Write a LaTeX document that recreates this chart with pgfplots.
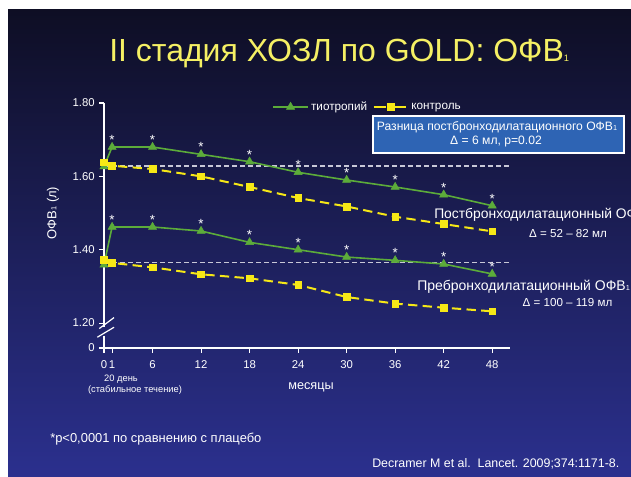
\documentclass[border=0pt]{standalone}
\usepackage{fontspec}
\setmainfont{Liberation Sans}
\usepackage{pgfplots}
\pgfplotsset{compat=1.18}
\definecolor{bgtop}{RGB}{14,14,36}
\definecolor{bgmid}{RGB}{34,38,118}
\definecolor{bgbot}{RGB}{43,48,142}
\definecolor{ttl}{RGB}{245,240,100}
\definecolor{tgreen}{RGB}{92,172,58}
\definecolor{cyellow}{RGB}{246,232,22}
\definecolor{boxblue}{RGB}{46,100,180}
\definecolor{refgrey}{RGB}{200,200,215}
\newcommand{\sub}[1]{{\fontsize{5.5}{6}\selectfont #1}}
\begin{document}
\begin{tikzpicture}[x=0.75pt,y=-0.75pt]
\useasboundingbox (0,0) rectangle (631,476);
\clip (0,0) rectangle (631,476);
\fill[white] (0,0) rectangle (631,476);
\shade[top color=bgtop, middle color=bgmid, bottom color=bgbot] (8,9) rectangle (631,476);
\coordinate (AO) at (104,348);

\begin{axis}[
  at={(AO)}, anchor=south west, scale only axis,
  width=304.5pt, height=183.75pt,
  xmin=0, xmax=50.2, ymin=1.132, ymax=1.80,
  clip=false,
  axis x line=bottom, axis y line=left,
  axis line style={-, white, line width=1pt},
  y axis line style={draw=none},
  xtick={0,1,6,12,18,24,30,36,42,48},
  xticklabels={0,1,6,12,18,24,30,36,42,48},
  ytick={1.132,1.2,1.4,1.6,1.8},
  yticklabels={0,1.20,1.40,1.60,1.80},
  tick align=outside, major tick length=3.5pt,
  every tick/.style={white, line width=0.8pt},
  tick label style={text=white, font=\fontsize{8.5}{10}\selectfont},
  xticklabel style={yshift=-2.5pt},
  /pgf/number format/assume math mode=true,
  legend style={at={(0.405,0.984)}, anchor=west, draw=none, fill=none,
    text=white, font=\fontsize{8.8}{10}\selectfont,
    /tikz/every even column/.append style={column sep=2pt}},
  legend columns=-1,
  legend image code/.code={\draw[mark repeat=2,mark phase=2] plot coordinates {(0cm,0cm) (0.45cm,0cm) (0.9cm,0cm)};},
  every node near coord/.style={anchor=center, yshift=5.3pt, text=white, font=\fontsize{10}{10}\selectfont},
  tri/.style={tgreen, line width=1.2pt, mark=triangle*, mark size=3.5pt, mark options={solid, line width=0.4pt}},
  sq/.style={cyellow, line width=1.5pt, dash pattern=on 7pt off 4pt, mark=square*, mark size=2.5pt, mark options={solid, line width=0.4pt}},
]
% reference lines
\addplot[forget plot, refgrey, line width=1.4pt, dash pattern=on 3.5pt off 2.5pt] coordinates {(0,1.629) (50.2,1.629)};
\addplot[forget plot, refgrey, line width=1.4pt, dash pattern=on 3.5pt off 2.5pt] coordinates {(0,1.365) (50.2,1.365)};
% post-bronchodilator
\addplot[forget plot, tri, nodes near coords={\pgfplotspointmeta}, point meta=explicit symbolic]
  coordinates {(0,1.627)[] (1,1.68)[*] (6,1.68)[*] (12,1.66)[*] (18,1.64)[*] (24,1.611)[*] (30,1.59)[*] (36,1.571)[*] (42,1.55)[*] (48,1.52)[*]};
\addplot[forget plot, sq]
  coordinates {(0,1.638) (1,1.629) (6,1.62) (12,1.60) (18,1.571) (24,1.541) (30,1.518) (36,1.49) (42,1.47) (48,1.45)};
% pre-bronchodilator
\addplot[forget plot, tri, nodes near coords={\pgfplotspointmeta}, point meta=explicit symbolic]
  coordinates {(0,1.359)[] (1,1.462)[*] (6,1.462)[*] (12,1.451)[*] (18,1.42)[*] (24,1.40)[*] (30,1.38)[*] (36,1.371)[*] (42,1.361)[*] (48,1.334)[*]};
\addplot[forget plot, sq]
  coordinates {(0,1.373) (1,1.364) (6,1.352) (12,1.333) (18,1.322) (24,1.304) (30,1.271) (36,1.253) (42,1.242) (48,1.232)};
% legend
\addlegendimage{tri}
\addlegendentry{тиотропий}
\addlegendimage{sq, dash pattern=on 9.3pt off 6pt}
\addlegendentry{контроль}
% y axis with break
\draw[white, line width=1pt] (axis cs:0,1.80) -- (axis cs:0,1.1905);
\draw[white, line width=1pt] (axis cs:0,1.166) -- (axis cs:0,1.132);
\draw[white, line width=0.9pt] (axis cs:-0.58,1.185) -- (axis cs:1.24,1.215);
\draw[white, line width=0.9pt] (axis cs:-0.83,1.1614) -- (axis cs:1.24,1.1886);
\end{axis}

% title
\node[anchor=base west, text=ttl, font=\fontsize{24}{28}\selectfont, inner sep=0pt] at (109,61) {II стадия ХОЗЛ по GOLD: ОФВ{\fontsize{7}{7}\selectfont 1}};
% y label
\node[rotate=90, white, font=\fontsize{9.75}{12}\selectfont] at (53,213) {ОФВ\sub{1} (л)};
% x labels
\node[white, font=\fontsize{9.5}{11}\selectfont] at (311,387) {месяцы};
\node[white, font=\fontsize{7}{8}\selectfont] at (121,379) {20 день};
\node[white, font=\fontsize{7}{8}\selectfont] at (135,390) {(стабильное течение)};
% box
\draw[white, fill=boxblue, line width=1pt] (373,116) rectangle (624,153);
\node[white, font=\fontsize{9.1}{11}\selectfont] at (497,127.5) {Разница постбронходилатационного ОФВ\sub{1}};
\node[white, font=\fontsize{9.1}{11}\selectfont] at (496,142) {Δ = 6 мл, p=0.02};
% annotations
\node[anchor=west, inner sep=0pt, white, font=\fontsize{10.4}{12}\selectfont] at (434,215) {Постбронходилатационный ОФВ\sub{1}};
\node[white, font=\fontsize{8.7}{10}\selectfont] at (568,233) {Δ = 52 – 82 мл};
\node[anchor=west, inner sep=0pt, white, font=\fontsize{10.5}{12}\selectfont] at (417,287) {Пребронходилатационный ОФВ\sub{1}};
\node[white, font=\fontsize{8.7}{10}\selectfont] at (567.5,302) {Δ = 100 – 119 мл};
% footnotes
\node[anchor=west, inner sep=0pt, white, font=\fontsize{9.7}{11}\selectfont] at (50,439) {*p<0,0001 по сравнению с плацебо};
\node[anchor=west, inner sep=0pt, white, font=\fontsize{9.3}{11}\selectfont] at (372,464) {Decramer M et al.\ \ Lancet. 2009;374:1171-8.};
\end{tikzpicture}
\end{document}
